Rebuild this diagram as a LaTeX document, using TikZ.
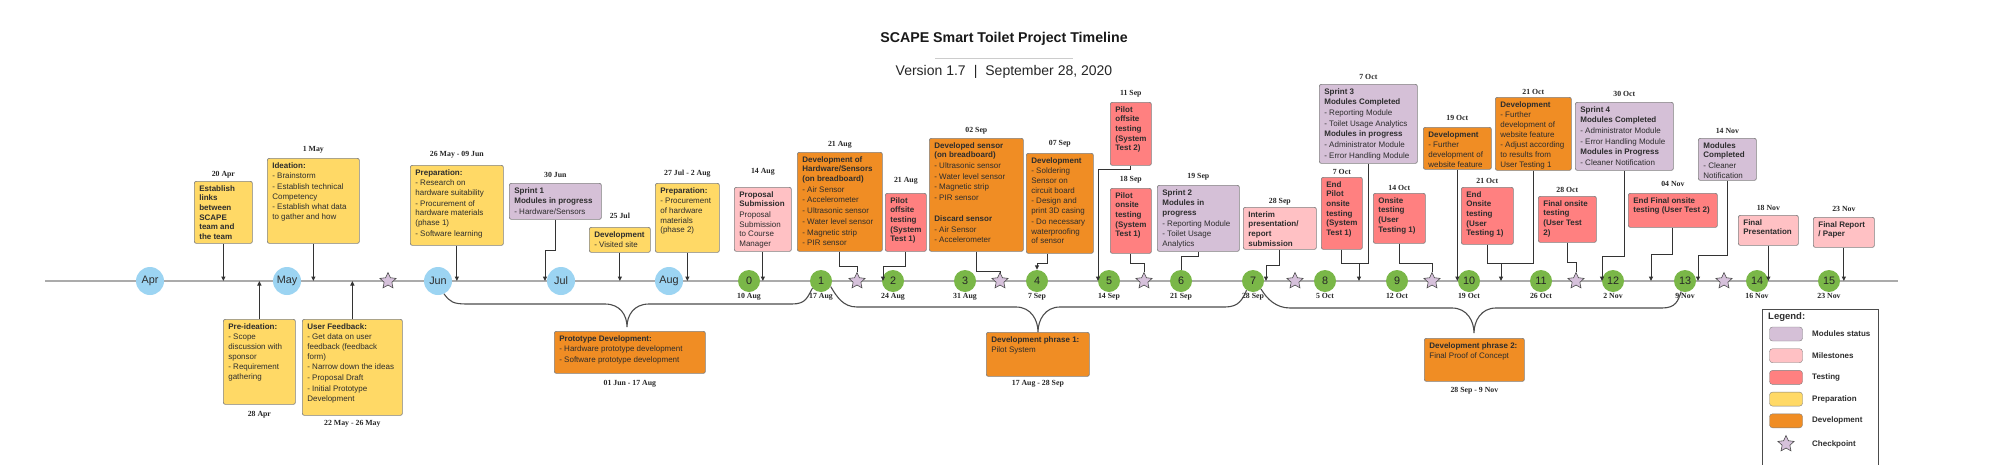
\documentclass[tikz,border=0pt]{standalone}
\usepackage{fontspec}
\setmainfont{Liberation Sans}
\newfontfamily\datefamily{Liberation Serif}
\usetikzlibrary{arrows.meta, positioning, shapes.geometric}
\definecolor{modC}{RGB}{213,192,215}
\definecolor{mileC}{RGB}{255,193,196}
\definecolor{testC}{RGB}{255,128,128}
\definecolor{prepC}{RGB}{255,217,102}
\definecolor{devC}{RGB}{240,141,36}
\definecolor{monthC}{RGB}{156,212,242}
\definecolor{msC}{RGB}{122,183,72}
\definecolor{chkC}{RGB}{214,193,219}
\definecolor{edgeC}{RGB}{128,128,128}
\definecolor{inkC}{RGB}{45,45,45}
\tikzset{
  card/.style 2 args={draw=edgeC, line width=0.7pt, rounded corners=2pt, anchor=north west,
    inner xsep=5pt, inner ysep=4pt, text=inkC, font=\fontsize{8}{9.7}\selectfont,
    execute at begin node={\begin{minipage}[t][\dimexpr#2pt-8pt\relax][t]{\dimexpr#1pt-10pt\relax}\raggedright\hyphenpenalty=10000\exhyphenpenalty=10000 },
    execute at end node={\end{minipage}}},
  prepfill/.style={fill=prepC},
  devfill/.style={fill=devC},
  testfill/.style={fill=testC},
  milefill/.style={fill=mileC},
  modfill/.style={fill=modC},
  date/.style={font=\datefamily\bfseries\fontsize{7.8}{9}\selectfont, text=black!85, inner sep=1pt},
  month/.style={circle, fill=monthC, minimum size=28pt, inner sep=0pt, font=\fontsize{10.8}{12}\selectfont, text=inkC},
  ms/.style={circle, fill=msC, minimum size=22pt, inner sep=0pt, font=\fontsize{10.8}{12}\selectfont, text=black!85},
  chk/.style={star, star points=5, star point ratio=2.1, fill=chkC, draw=black!70, line width=0.6pt, minimum size=17pt, inner sep=0pt},
  tline/.style={draw=black!33, line width=1.5pt},
  arr/.style={-{Triangle[length=4.5pt, width=4pt]}, draw=black!80, line width=1pt},
  wire/.style={draw=black!80, line width=1pt},
  phase/.style={draw=black!70, line width=1.1pt},
  swatch/.style={draw=edgeC, rounded corners=3pt, minimum width=33pt, minimum height=14pt, inner sep=0pt},
  leg/.style={font=\bfseries\fontsize{8}{9}\selectfont, text=inkC, anchor=west, inner sep=0pt},
}
\begin{document}
\begin{tikzpicture}[x=1pt, y=-1pt]
  \useasboundingbox (0,0) rectangle (2000,464);
  \node[font=\bfseries\fontsize{14.2}{17}\selectfont, text=black!90] (title) at (1004,39) {SCAPE Smart Toilet Project Timeline};
  \draw[black!20, line width=0.8pt] (935,58) -- (1073,58);
  \node[font=\fontsize{14}{17}\selectfont, text=black!85] (version) at (1004,72) {Version 1.7\hspace{8pt}|\hspace{8pt}September 28, 2020};

  \coordinate (tl) at (45,281);
  \coordinate (tr) at (1898,281);
  \draw[tline] (tl) -- (tr);
  \coordinate (t-sprint1) at (545,281);
  \coordinate (t-pilot1) at (883,281);
  \coordinate (t-pilot2) at (1098,281);
  \coordinate (t-interim) at (1266,281);
  \coordinate (t-oct7) at (1359,281);
  \coordinate (j-oct7) at (1359,263);
  \coordinate (t-oct21) at (1501,281);
  \coordinate (j-oct21) at (1501,263);
  \coordinate (t-sprint4) at (1602,281);
  \coordinate (t-endfinal) at (1651,281);
  \coordinate (t-mods) at (1698,281);

  \foreach \m/\x in {Apr/150, May/287, Jun/438, Jul/561, Aug/669}
    \node[month] (m\m) at (\x,281) {\m};
  \foreach \n/\dt in {0/10 Aug, 1/17 Aug, 2/24 Aug, 3/31 Aug, 4/7 Sep, 5/14 Sep, 6/21 Sep, 7/28 Sep,
                      8/5 Oct, 9/12 Oct, 10/19 Oct, 11/26 Oct, 12/2 Nov, 13/9 Nov, 14/16 Nov, 15/23 Nov} {
    \node[ms] (c\n) at ({749+72*\n},281) {\n};
    \node[date, below=-0.5pt of c\n] (cd\n) {\dt};
  }
  \foreach \i/\x in {1/388, 2/857, 3/1000, 4/1144, 5/1295, 6/1432, 7/1576, 8/1724}
    \node[chk] (s\i) at (\x,281) {};

  \node[card={58}{62}, prepfill] (estab) at (194,181) {\textbf{Establish\\links\\between\\SCAPE\\team and\\the team}};
  \node[date, above=2pt of estab] (estab-d) {20 Apr};
  \node[card={72}{85}, prepfill] (preid) at (223,319) {\textbf{Pre-ideation:}\\[1pt]- Scope\\discussion with\\sponsor\\[1pt]- Requirement\\gathering};
  \node[date, below=5pt of preid] (preid-d) {28 Apr};
  \node[card={92}{85}, prepfill] (ideation) at (267,158) {\textbf{Ideation:}\\[1pt]- Brainstorm\\[1pt]- Establish technical\\Competency\\[1pt]- Establish what data\\to gather and how};
  \node[date, above=4pt of ideation] (ideation-d) {1 May};
  \node[card={100}{96}, prepfill] (feedback) at (302,319) {\textbf{User Feedback:}\\[1pt]- Get data on user\\feedback (feedback\\form)\\[1pt]- Narrow down the ideas\\[1pt]- Proposal Draft\\[1pt]- Initial Prototype\\Development};
  \node[date, below=3pt of feedback] (feedback-d) {22 May - 26 May};
  \node[card={93}{80}, prepfill] (prep1) at (410,165) {\textbf{Preparation:}\\[1pt]- Research on\\hardware suitability\\[1pt]- Procurement of\\hardware materials\\(phase 1)\\[1pt]- Software learning};
  \node[date, above=6pt of prep1] (prep1-d) {26 May - 09 Jun};
  \node[card={92}{36}, modfill] (sprint1) at (509,183) {\textbf{Sprint 1\\[1pt]Modules in progress}\\[1pt]- Hardware/Sensors};
  \node[date, above=4pt of sprint1] (sprint1-d) {30 Jun};
  \node[card={61}{25}, prepfill] (dev25) at (589,227) {\textbf{Development}\\[1pt]- Visited site};
  \node[date, above=7pt of dev25] (dev25-d) {25 Jul};
  \node[card={64}{69}, prepfill] (prep2) at (655,183) {\textbf{Preparation:}\\[1pt]- Procurement\\of hardware\\materials\\(phase 2)};
  \node[date, above=5pt of prep2] (prep2-d) {27 Jul - 2 Aug};
  \node[card={151}{42}, devfill] (proto) at (554,331) {\textbf{Prototype Development:}\\[1pt]- Hardware prototype development\\[1pt]- Software prototype development};
  \node[date, below=5pt of proto] (proto-d) {01 Jun - 17 Aug};
  \node[card={57}{64}, milefill] (proposal) at (734,187) {\textbf{Proposal\\Submission}\\[1pt]Proposal\\Submission\\to Course\\Manager};
  \node[date, above=11pt of proposal] (proposal-d) {14 Aug};
  \node[card={85}{99}, devfill] (hwdev) at (797,152) {\textbf{Development of\\Hardware/Sensors\\(on breadboard)}\\[1pt]- Air Sensor\\[1pt]- Accelerometer\\[1pt]- Ultrasonic sensor\\[1pt]- Water level sensor\\[1pt]- Magnetic strip\\[1pt]- PIR sensor};
  \node[date, above=3pt of hwdev] (hwdev-d) {21 Aug};
  \node[card={41}{58}, testfill] (pilot1) at (885,193) {\textbf{Pilot\\offsite\\testing\\(System\\Test 1)}};
  \node[date, above=8pt of pilot1] (pilot1-d) {21 Aug};
  \node[card={94}{113}, devfill] (dsensor) at (929,138) {\textbf{Developed sensor\\(on breadboard)}\\[1pt]- Ultrasonic sensor\\[1pt]- Water level sensor\\[1pt]- Magnetic strip\\[1pt]- PIR sensor\\[11pt]\textbf{Discard sensor}\\[1pt]- Air Sensor\\[1pt]- Accelerometer};
  \node[date, above=3pt of dsensor] (dsensor-d) {02 Sep};
  \node[card={67}{100}, devfill] (dev07) at (1026,153) {\textbf{Development}\\[1pt]- Soldering\\Sensor on\\circuit board\\[1pt]- Design and\\print 3D casing\\[1pt]- Do necessary\\waterproofing\\of sensor};
  \node[date, above=5pt of dev07] (dev07-d) {07 Sep};
  \node[card={41}{63}, testfill] (pilot2) at (1110,102) {\textbf{Pilot\\offsite\\testing\\(System\\Test 2)}};
  \node[date, above=4pt of pilot2] (pilot2-d) {11 Sep};
  \node[card={41}{65}, testfill] (piloton) at (1110,188) {\textbf{Pilot\\onsite\\testing\\(System\\Test 1)}};
  \node[date, above=4pt of piloton] (piloton-d) {18 Sep};
  \node[card={82}{66}, modfill] (sprint2) at (1157,185) {\textbf{Sprint 2\\[1pt]Modules in\\progress}\\[1pt]- Reporting Module\\[1pt]- Toilet Usage\\Analytics};
  \node[date, above=4pt of sprint2] (sprint2-d) {19 Sep};
  \node[card={73}{42}, milefill] (interim) at (1243,207) {\textbf{Interim\\presentation/\\report\\submission}};
  \node[date, above=1pt of interim] (interim-d) {28 Sep};
  \node[card={98}{79}, modfill] (sprint3) at (1319,84) {\textbf{Sprint 3\\[1pt]Modules Completed}\\[1pt]- Reporting Module\\[1pt]- Toilet Usage Analytics\\[1pt]\textbf{Modules in progress}\\[1pt]- Administrator Module\\[1pt]- Error Handling Module};
  \node[date, above=3pt of sprint3] (sprint3-d) {7 Oct};
  \node[card={41}{72}, testfill] (endpilot) at (1321,177) {\textbf{End\\Pilot\\onsite\\testing\\(System\\Test 1)}};
  \node[date, above=1pt of endpilot] (endpilot-d) {7 Oct};
  \node[card={52}{50}, testfill] (onsite1) at (1373,193) {\textbf{Onsite\\testing\\(User\\Testing 1)}};
  \node[date, above=1pt of onsite1] (onsite1-d) {14 Oct};
  \node[card={68}{42}, devfill] (dev19) at (1423,127) {\textbf{Development}\\[1pt]- Further\\development of\\website feature};
  \node[date, above=5pt of dev19] (dev19-d) {19 Oct};
  \node[card={76}{73}, devfill] (dev21) at (1495,97) {\textbf{Development}\\[1pt]- Further\\development of\\website feature\\[1pt]- Adjust according\\to results from\\User Testing 1};
  \node[date, above=1pt of dev21] (dev21-d) {21 Oct};
  \node[card={52}{57}, testfill] (endonsite) at (1461,187) {\textbf{End\\Onsite\\testing\\(User\\Testing 1)}};
  \node[date, above=2pt of endonsite] (endonsite-d) {21 Oct};
  \node[card={58}{46}, testfill] (final2) at (1538,196) {\textbf{Final onsite\\testing\\(User Test\\2)}};
  \node[date, above=2pt of final2] (final2-d) {28 Oct};
  \node[card={98}{68}, modfill] (sprint4) at (1575,102) {\textbf{Sprint 4\\[1pt]Modules Completed}\\[1pt]- Administrator Module\\[1pt]- Error Handling Module\\[1pt]\textbf{Modules in Progress}\\[1pt]- Cleaner Notification};
  \node[date, above=4pt of sprint4] (sprint4-d) {30 Oct};
  \node[card={89}{34}, testfill] (endfinal) at (1628,193) {\textbf{End Final onsite\\testing (User Test 2)}};
  \node[date, above=5pt of endfinal] (endfinal-d) {04 Nov};
  \node[card={58}{42}, modfill] (modsdone) at (1698,138) {\textbf{Modules\\Completed}\\[1pt]- Cleaner\\Notification};
  \node[date, above=3pt of modsdone] (modsdone-d) {14 Nov};
  \node[card={60}{30}, milefill] (finalpres) at (1738,215) {\textbf{Final\\Presentation}};
  \node[date, above=3pt of finalpres] (finalpres-d) {18 Nov};
  \node[card={61}{30}, milefill] (finalrep) at (1813,217) {\textbf{Final Report\\/ Paper}};
  \node[date, above=4pt of finalrep] (finalrep-d) {23 Nov};
  \node[card={103}{44}, devfill] (phase1) at (986,332) {\textbf{Development phrase 1:}\\[1pt]Pilot System};
  \node[date, below=2pt of phase1] (phase1-d) {17 Aug - 28 Sep};
  \node[card={100}{43}, devfill] (phase2) at (1424,338) {\textbf{Development phrase 2:}\\[1pt]Final Proof of Concept};
  \node[date, below=4pt of phase2] (phase2-d) {28 Sep - 9 Nov};

  \draw[arr] (estab.south) -- (estab.south |- tl);
  \draw[arr] (preid.north) -- (preid.north |- tl);
  \draw[arr] (ideation.south) -- (ideation.south |- tl);
  \draw[arr] (feedback.north) -- (feedback.north |- tl);
  \draw[arr] (prep1.south) -- (prep1.south |- tl);
  \draw[arr] (sprint1.south) -- ++(0,31) -| (t-sprint1);
  \draw[arr] (dev25.south) -- (dev25.south |- tl);
  \draw[arr] (prep2.south) -- (prep2.south |- tl);
  \draw[arr] (proposal.south) -- (proposal.south |- tl);
  \draw[wire] (hwdev.south) -- ++(0,15) -| (s2);
  \draw[arr] (pilot1.south) -- ++(0,15) -| (t-pilot1);
  \draw[wire] (dsensor.south) -- ++(0,20) -| (s3);
  \draw[arr] ([xshift=-12pt]dev07.south) -- ++(0,10) -| (c4);
  \draw[arr] (pilot2.south) -- ++(0,4) -| (t-pilot2);
  \draw[wire] (piloton.south) -- ++(0,10) -| (s4);
  \draw[wire] (sprint2.south) -- ++(0,5) -| (c6);
  \draw[arr] (interim.south) -- ++(0,16) -| (t-interim);
  \draw[wire] (endpilot.south) |- (j-oct7);
  \draw[arr] (sprint3.south) |- (j-oct7) -- (t-oct7);
  \draw[wire] (onsite1.south) -- ++(0,20) -| (s6);
  \draw[arr] (dev19.south) -- (dev19.south |- tl);
  \draw[wire] (endonsite.south) |- (j-oct21);
  \draw[arr] (dev21.south) |- (j-oct21) -- (t-oct21);
  \draw[wire] (final2.south) -- ++(0,20) -| (s7);
  \draw[arr] (sprint4.south) -- ++(0,86) -| (t-sprint4);
  \draw[arr] (endfinal.south) -- ++(0,27) -| (t-endfinal);
  \draw[arr] (modsdone.south) -- ++(0,75) -| (t-mods);
  \draw[arr] (finalpres.south) -- (finalpres.south |- tl);
  \draw[arr] (finalrep.south) -- (finalrep.south |- tl);

  \draw[phase] (mJun.-65) .. controls +(6,8) and +(-14,0) .. (467,304) -- (605,304)
    .. controls +(15,0) and +(0,-12) .. (627,327) .. controls +(0,-12) and +(-15,0) .. (649,304)
    -- (792,304) .. controls +(14,0) and +(-5,9) .. (c1.-140);
  \draw[phase] (c1.-30) .. controls +(6,10) and +(-14,0) .. (857,307) -- (1016,307)
    .. controls +(15,0) and +(0,-12) .. (1038,332) .. controls +(0,-12) and +(-15,0) .. (1060,307)
    -- (1225,307) .. controls +(14,0) and +(-4,9) .. (c7.-125);
  \draw[phase] (c7.-45) .. controls +(6,10) and +(-14,0) .. (1290,308) -- (1452,308)
    .. controls +(15,0) and +(0,-12) .. (1474,333) .. controls +(0,-12) and +(-15,0) .. (1496,308)
    -- (1662,308) .. controls +(14,0) and +(-3,9) .. (c13.-110);

  \node[draw=black!70, line width=0.8pt, minimum width=116pt, minimum height=158pt, anchor=north west, inner sep=0pt] (legend) at (1762,309) {};
  \node[leg, font=\bfseries\fontsize{9.5}{11}\selectfont] (legend-t) at (1768,317) {Legend:};
  \foreach \c/\t [count=\i] in {modC/Modules status, mileC/Milestones, testC/Testing, prepC/Preparation, devC/Development} {
    \node[swatch, fill=\c] (sw\i) at (1786,{312.3+21.7*\i}) {};
    \node[leg] (lt\i) at (1812,{312.3+21.7*\i}) {\t};
  }
  \node[chk] (sw6) at (1786,444) {};
  \node[leg] (lt6) at (1812,444) {Checkpoint};
\end{tikzpicture}
\end{document}
